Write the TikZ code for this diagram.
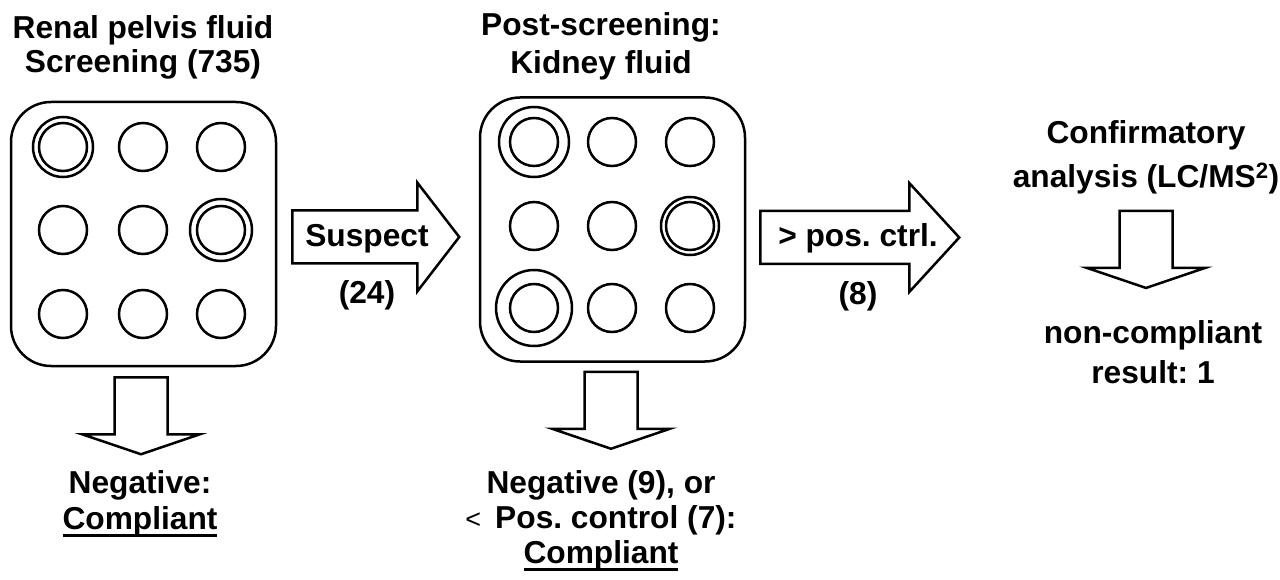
\documentclass[tikz,border=0pt]{standalone}
\usepackage{fontspec}
\setmainfont{Liberation Sans}
\usetikzlibrary{calc}
\newcommand{\lblfont}[1]{\frenchspacing\bfseries\fontsize{31.7}{#1}\selectfont}
\newcommand{\ulword}[1]{{\setbox0\hbox{#1}\rlap{\rule[-8pt]{\wd0}{3pt}}\box0}}
\tikzset{
    plate/.style={draw, line width=2.5, rounded corners=40, minimum width=265, minimum height=264, inner sep=0},
    well/.style={draw, circle, line width=2.5, minimum size=48, inner sep=0},
    ring/.style={draw, circle, line width=2.5, minimum size=#1, inner sep=0},
    blockarrow/.style={draw, line width=2.5, line join=miter, fill=white},
    lbl/.style={font=\lblfont{#1}, align=center, inner sep=0, anchor=north},
    lbl/.default=36,
    albl/.style={font=\lblfont{36}, inner sep=0, anchor=base},
}
% block arrows: tail point, shaft length, head length
\newcommand{\blockright}[3]{\draw[blockarrow] (#1) ++(0,-26.5) -- ++(#2,0) -- ++(0,-28) -- ++(#3,54.5) -- ++(-#3,54.5) -- ++(0,-28) -- ++(-#2,0) -- cycle;}
\newcommand{\blockdown}[1]{\draw[blockarrow] (#1) ++(-26.5,0) -- ++(53,0) -- ++(0,57) -- ++(32.5,0) -- ++(-59,20) -- ++(-59,-20) -- ++(32.5,0) -- cycle;}
\begin{document}
\begin{tikzpicture}[x=1pt, y=-1pt] % screening flow
	\useasboundingbox (0,0) rectangle (1280,580);
	\node[plate] (plateL) at (143.5,234) {};
	\node[plate] (plateM) at (612.5,229.5) {};
	\foreach \c/\x in {1/63,2/143,3/221}
	\foreach \r/\y in {1/147,2/230,3/314}
	\node[well] (wL\r\c) at (\x,\y) {};
	\foreach \c/\x in {1/534,2/612,3/690}
	\foreach \r/\y in {1/142,2/226,3/308}
	\node[well] (wM\r\c) at (\x,\y) {};
	\node[ring=60] (rL11) at (wL11) {};
	\node[ring=62] (rL23) at (wL23) {};
	\node[ring=70] (rM11) at (wM11) {};
	\node[ring=58] (rM23) at (wM23) {};
	\node[ring=76] (rM31) at (wM31) {};
	\node[lbl=34] (ttlL) at (143,15) {Renal pelvis fluid\\Screening (735)};
	\node[lbl=38] (ttlM) at (601,12) {Post-screening:\\Kidney fluid};
	\node[lbl=44] (ttlC) at (1146,120) {Confirmatory\\analysis (LC/MS\textsuperscript{2})};
	\node[lbl=40] (resC) at (1153,320) {non-compliant\\result: 1};
	\node[lbl] (negL) at (140,470) {Negative:\\\ulword{Compliant}};
	\node[lbl=35] (negM) at (601,470) {Negative (9), or\\{\mdseries\fontsize{27}{27}\selectfont <}\hspace{14pt}Pos. control (7):\\\ulword{Compliant}};
	\blockright{$(plateL.east)+(15,3)$}{125}{42}
	\blockright{$(plateM.east)+(14,8)$}{149}{50}
	\blockdown{$(plateL.south)+(-2.5,10)$}
	\blockdown{$(plateM.south)+(-1.5,9)$}
	\blockdown{$(ttlC.south)+(0,17)$}
	\node[albl] (susp) at (367,247) {Suspect};
	\node[albl] (nSusp) at (367,303) {(24)};
	\node[albl] (posc) at (858,247) {> pos. ctrl.};
	\node[albl] (nPos) at (858,305) {(8)};
\end{tikzpicture}
\end{document}
